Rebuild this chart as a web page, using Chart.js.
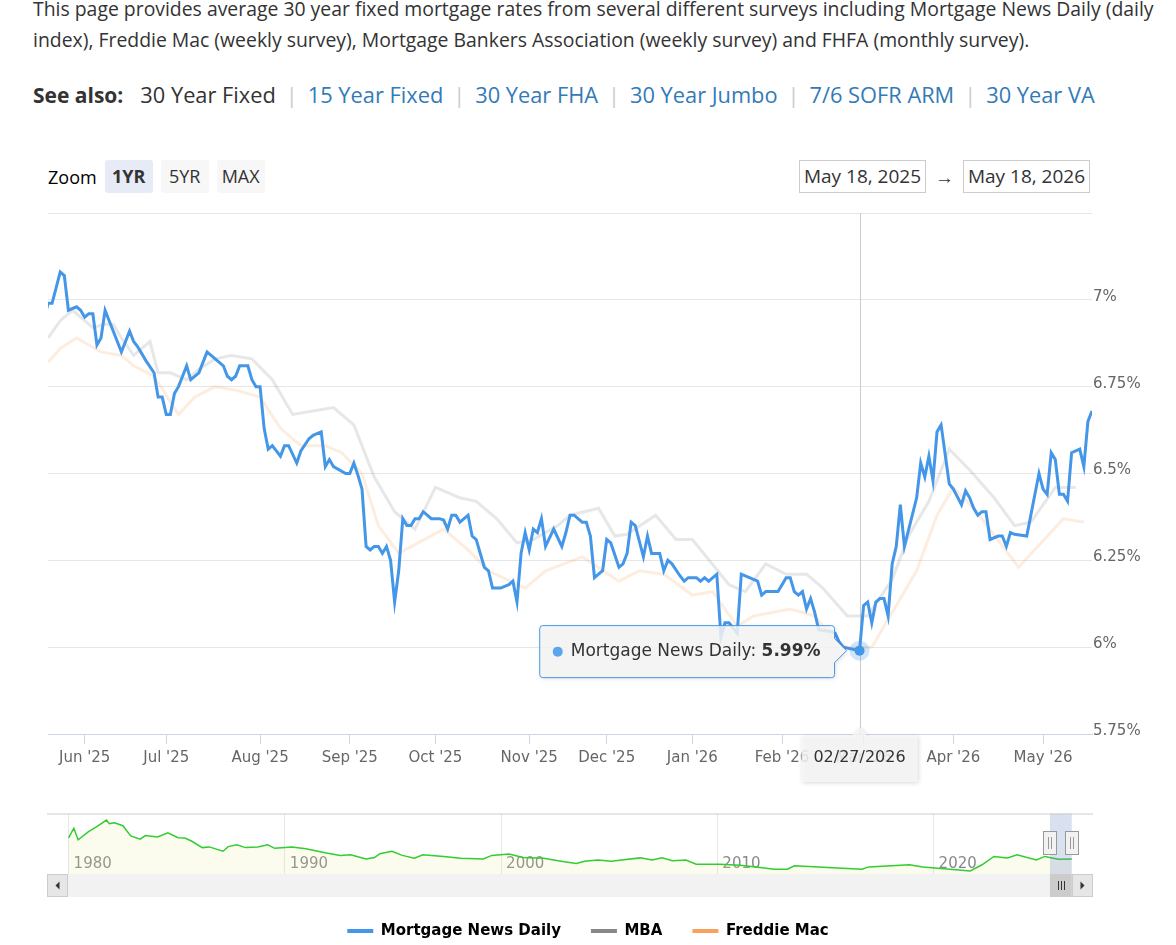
<!DOCTYPE html>
<html>
<head>
<meta charset="utf-8">
<script src="https://cdn.jsdelivr.net/npm/chart.js@4/dist/chart.umd.min.js"></script>
<style>
  body { margin:0; width:1176px; height:945px; overflow:hidden; background:#fff; position:relative;
         font-family:'Open Sans', sans-serif; color:#333; }
  .intro { position:absolute; left:33px; top:-7px; font-size:19.4px; line-height:31px; white-space:nowrap; }
  .seealso { position:absolute; left:33px; top:80px; font-size:21.8px; line-height:30px; white-space:nowrap; }
  .seealso b { font-size:21px; margin-right:17px; }
  .seealso a { color:#337ab7; text-decoration:none; }
  .seealso .sep { color:#ccc; margin:0 10px; }
  .zoom { position:absolute; left:48px; top:160px; height:33px; display:flex; align-items:center; font-size:18px; color:#000; }
  .zoom .btn { height:33px; line-height:33px; width:48px; text-align:center; margin-left:8px; background:#f7f7f7; border-radius:3px; color:#333; }
  .zoom .btn.on { background:#e6ebf5; font-weight:bold; }
  .range { position:absolute; top:160px; height:33px; display:flex; align-items:center; font-size:19px; }
  .range .box { box-sizing:border-box; height:33px; line-height:31px; width:127px; text-align:center; border:1px solid #ccc; }
  .range .arrow { width:37px; text-align:center; }
  canvas { position:absolute; left:0; }
</style>
</head>
<body>
<div class="intro">This page provides average 30 year fixed mortgage rates from several different surveys including Mortgage News Daily (daily<br>index), Freddie Mac (weekly survey), Mortgage Bankers Association (weekly survey) and FHFA (monthly survey).</div>
<div class="seealso"><b>See also:</b>30 Year Fixed<span class="sep">|</span><a>15 Year Fixed</a><span class="sep">|</span><a>30 Year FHA</a><span class="sep">|</span><a>30 Year Jumbo</a><span class="sep">|</span><a>7/6 SOFR ARM</a><span class="sep">|</span><a>30 Year VA</a></div>
<div class="zoom">Zoom<span class="btn on">1YR</span><span class="btn">5YR</span><span class="btn">MAX</span></div>
<div class="range" style="left:799px"><span class="box">May 18, 2025</span><span class="arrow">→</span><span class="box">May 18, 2026</span></div>
<canvas id="main" width="1176" height="600" style="top:200px;width:1176px;height:600px"></canvas>
<canvas id="nav" width="1176" height="150" style="top:800px;width:1176px;height:150px"></canvas>
<script>
// x = trading day since May 19, 2025
const mndDay = [-1,0,1,3,4,5,7,8,9,10,11,12,13,14,15,18,20,21,22,24,26,27,28,29,30,31,32,34,35,37,38,39,41,43,44,45,46,47,49,50,51,52,53,54,55,56,57,58,59,61,62,64,65,67,68,69,70,73,74,75,76,77,78,79,80,81,82,83,84,85,86,87,88,89,90,91,92,93,94,96,97,98,99,100,101,103,104,105,107,108,109,111,113,114,115,116,117,118,119,120,121,122,124,126,127,128,129,131,132,133,134,135,136,137,138,140,141,142,143,144,146,147,148,150,151,152,153,155,156,157,159,160,161,162,164,165,166,167,169,170,172,174,175,176,179,180,181,182,183,184,185,186,187,188,189,192,193,194,195,199,200,201,202,203,204,205,206,207,208,209,210,213,214,215,216,217,218,219,221,222,224,225,226,227,228,229,230,231,233,234,235,236,237,240,243,244,245,246,247,248,249,250,251,253,254,255,256];
const mndRate = [6.94,6.99,6.99,7.08,7.07,6.97,6.98,6.97,6.95,6.96,6.96,6.87,6.89,6.97,6.94,6.85,6.91,6.88,6.865,6.825,6.79,6.72,6.72,6.67,6.67,6.73,6.75,6.81,6.77,6.79,6.82,6.85,6.83,6.81,6.78,6.77,6.78,6.81,6.81,6.77,6.75,6.75,6.63,6.57,6.58,6.565,6.55,6.58,6.58,6.53,6.565,6.60,6.61,6.62,6.52,6.54,6.52,6.50,6.50,6.53,6.495,6.455,6.29,6.28,6.29,6.29,6.27,6.29,6.25,6.13,6.22,6.37,6.35,6.35,6.37,6.37,6.39,6.38,6.37,6.37,6.366,6.34,6.38,6.38,6.36,6.38,6.32,6.31,6.23,6.22,6.17,6.17,6.18,6.19,6.13,6.27,6.33,6.28,6.34,6.33,6.37,6.29,6.34,6.29,6.33,6.38,6.38,6.36,6.36,6.32,6.20,6.21,6.22,6.31,6.30,6.23,6.24,6.27,6.36,6.35,6.26,6.32,6.27,6.27,6.22,6.25,6.24,6.205,6.19,6.20,6.20,6.19,6.20,6.19,6.21,6.03,6.07,6.07,6.04,6.21,6.20,6.19,6.15,6.16,6.16,6.18,6.20,6.20,6.16,6.15,6.16,6.11,6.14,6.10,6.05,6.045,6.04,6.015,6.00,5.99,6.12,6.13,6.07,6.13,6.14,6.14,6.09,6.24,6.29,6.41,6.29,6.43,6.53,6.49,6.55,6.48,6.62,6.64,6.47,6.455,6.41,6.45,6.43,6.40,6.38,6.39,6.39,6.31,6.32,6.32,6.29,6.33,6.325,6.32,6.50,6.455,6.44,6.56,6.54,6.44,6.44,6.42,6.56,6.57,6.52,6.65,6.68];
const mbaDay = [0,3,6,11,14,16,18,21,25,27,30,34,37,41,45,50,55,60,70,75,80,85,90,95,101,105,110,115,119,125,128,135,139,142,149,154,158,167,171,176,181,186,190,196,201,207,211,216,221,226,232,237,241,247,252];
const mbaRate = [6.89,6.94,6.97,6.92,6.93,6.93,6.89,6.84,6.88,6.79,6.79,6.77,6.80,6.83,6.84,6.83,6.77,6.67,6.69,6.64,6.49,6.39,6.34,6.46,6.43,6.42,6.37,6.30,6.31,6.35,6.38,6.40,6.32,6.325,6.38,6.31,6.31,6.18,6.16,6.24,6.21,6.21,6.17,6.09,6.09,6.195,6.32,6.42,6.57,6.51,6.43,6.35,6.36,6.46,6.46];
const fmDay = [0,3,7,13,18,21,26,32,36,41,46,52,57,62,68,72,77,81,86,97,103,108,117,122,131,140,145,151,158,163,169,173,182,188,192,196,202,213,218,222,227,238,249,254];
const fmRate = [6.82,6.86,6.89,6.85,6.84,6.81,6.78,6.67,6.72,6.75,6.74,6.72,6.63,6.58,6.58,6.56,6.50,6.35,6.27,6.34,6.28,6.22,6.17,6.22,6.26,6.19,6.22,6.21,6.15,6.16,6.06,6.09,6.11,6.09,6.03,6.00,6.00,6.22,6.38,6.46,6.40,6.23,6.37,6.36];

const monthTickDay = [9,29,52,74,95,118,137,158,180,200,222,244];
const monthLabels = ["Jun '25","Jul '25","Aug '25","Sep '25","Oct '25","Nov '25","Dec '25","Jan '26","Feb '26","Mar '26","Apr '26","May '26"];
const rateTicks = [5.75,6,6.25,6.5,6.75,7,7.25];

const seriesNames = ['Mortgage News Daily','MBA','Freddie Mac'];
const seriesColors = ['#4496e8','#888888','#f5a35f'];
const hoverDay = 199;
const hoverDate = '02/27/2026';

// navigator: long history
const navYear = [1980.0,1980.24,1980.44,1980.92,1981.32,1981.75,1981.88,1982.12,1982.51,1982.87,1983.31,1983.55,1984.11,1984.59,1985.06,1985.38,1985.7,1986.18,1986.5,1987.14,1987.38,1987.78,1988.18,1988.74,1989.21,1989.53,1990.33,1990.97,1991.92,1992.56,1993.04,1993.75,1994.15,1994.39,1994.95,1995.43,1995.99,1996.38,1997.34,1998.14,1999.18,1999.57,2000.37,2001.01,2001.97,2002.92,2003.48,2003.85,2004.48,2005.11,2005.57,2006.44,2006.98,2007.45,2007.92,2008.55,2009.02,2010.11,2011.05,2011.99,2012.62,2013.24,2013.56,2015.12,2016.69,2017.0,2018.88,2019.5,2020.75,2021.69,2022.24,2022.79,2023.42,2023.86,2024.75,2025.14,2025.77,2026.39];
const navRate = [12.97,15.93,12.34,14.85,16.51,18.48,17.37,17.6,16.73,13.55,12.53,13.64,13.2,14.53,12.97,12.88,11.89,9.92,10.14,8.8,10.23,10.78,9.92,10.14,10.78,9.69,10.14,9.56,8.26,7.5,7.72,6.38,6.83,8.04,8.8,7.5,6.6,7.72,7.18,6.6,6.38,7.5,7.94,6.83,6.6,5.52,4.98,5.68,6.09,5.68,6.09,6.73,6.09,6.73,5.87,6.09,4.79,4.79,4.47,3.74,3.2,3.2,4.28,3.74,3.2,3.93,4.6,3.93,3.2,2.65,4.6,7.18,6.73,7.72,6.09,7.18,6.3,6.4];
const navYearTicks = [1980,1990,2000,2010,2020];
const navRange = [2025.38, 2026.39];
const navFloor = 0.61;

const pts = (xs, ys) => xs.map((x, i) => ({x: x, y: ys[i]}));
const chartFont = 'DejaVu Sans';

const hoverPlugin = {
  id: 'hover',
  beforeDatasetsDraw(chart) {
    const {ctx, chartArea, scales} = chart;
    const px = Math.round(scales.x.getPixelForValue(hoverDay)) + 0.5;
    ctx.save();
    ctx.strokeStyle = '#cccccc';
    ctx.lineWidth = 1;
    ctx.beginPath();
    ctx.moveTo(px, chartArea.top);
    ctx.lineTo(px, chartArea.bottom);
    ctx.stroke();
    ctx.restore();
  },
  afterDatasetsDraw(chart) {
    const {ctx, scales} = chart;
    const v = mndRate[mndDay.indexOf(hoverDay)];
    const px = scales.x.getPixelForValue(hoverDay), py = scales.y.getPixelForValue(v);
    ctx.save();
    ctx.fillStyle = 'rgba(68,150,232,0.25)';
    ctx.beginPath(); ctx.arc(px, py, 10, 0, Math.PI * 2); ctx.fill();
    ctx.fillStyle = seriesColors[0];
    ctx.beginPath(); ctx.arc(px, py, 5, 0, Math.PI * 2); ctx.fill();
    ctx.restore();
  },
  afterDraw(chart) {
    const {ctx, chartArea, scales} = chart;
    const v = mndRate[mndDay.indexOf(hoverDay)];
    const px = scales.x.getPixelForValue(hoverDay), py = scales.y.getPixelForValue(v);
    const name = seriesNames[0] + ': ';
    const valTxt = v.toFixed(2) + '%';
    ctx.save();
    ctx.font = '17px "' + chartFont + '"';
    const w1 = ctx.measureText(name).width;
    ctx.font = 'bold 17px "' + chartFont + '"';
    const w2 = ctx.measureText(valTxt).width;
    const boxW = 31 + w1 + w2 + 14, boxH = 52, r = 3;
    const right = px - 25, left = right - boxW, top = py - 25, bottom = top + boxH;

    // tooltip callout
    ctx.beginPath();
    ctx.moveTo(left + r, top);
    ctx.lineTo(right - r, top);
    ctx.quadraticCurveTo(right, top, right, top + r);
    ctx.lineTo(right, py - 12);
    ctx.lineTo(px - 13, py);
    ctx.lineTo(right, py + 12);
    ctx.lineTo(right, bottom - r);
    ctx.quadraticCurveTo(right, bottom, right - r, bottom);
    ctx.lineTo(left + r, bottom);
    ctx.quadraticCurveTo(left, bottom, left, bottom - r);
    ctx.lineTo(left, top + r);
    ctx.quadraticCurveTo(left, top, left + r, top);
    ctx.closePath();
    ctx.shadowColor = 'rgba(0,0,0,0.15)';
    ctx.shadowBlur = 4; ctx.shadowOffsetX = 1; ctx.shadowOffsetY = 1;
    ctx.fillStyle = 'rgba(247,247,247,0.85)';
    ctx.fill();
    ctx.shadowColor = 'transparent';
    ctx.strokeStyle = seriesColors[0];
    ctx.lineWidth = 1;
    ctx.stroke();

    const cy = top + boxH / 2;
    ctx.fillStyle = '#5aa5ec';
    ctx.beginPath(); ctx.arc(left + 18, cy, 5, 0, Math.PI * 2); ctx.fill();
    ctx.textBaseline = 'middle';
    ctx.textAlign = 'left';
    ctx.fillStyle = '#333333';
    ctx.font = '17px "' + chartFont + '"';
    ctx.fillText(name, left + 31, cy);
    ctx.font = 'bold 17px "' + chartFont + '"';
    ctx.fillText(valTxt, left + 31 + w1, cy);

    // date label under the axis
    ctx.font = '16px "' + chartFont + '"';
    const dw = ctx.measureText(hoverDate).width + 24;
    const dTop = chartArea.bottom + 2, dH = 46;
    ctx.beginPath();
    ctx.moveTo(px - dw / 2, dTop);
    ctx.lineTo(px - 8, dTop);
    ctx.lineTo(px, dTop - 9);
    ctx.lineTo(px + 8, dTop);
    ctx.lineTo(px + dw / 2, dTop);
    ctx.lineTo(px + dw / 2, dTop + dH);
    ctx.lineTo(px - dw / 2, dTop + dH);
    ctx.closePath();
    ctx.shadowColor = 'rgba(0,0,0,0.18)';
    ctx.shadowBlur = 4; ctx.shadowOffsetX = 1; ctx.shadowOffsetY = 1;
    ctx.fillStyle = 'rgba(247,247,247,0.85)';
    ctx.fill();
    ctx.shadowColor = 'transparent';
    ctx.fillStyle = '#333333';
    ctx.textAlign = 'center';
    ctx.fillText(hoverDate, px, dTop + 22);
    ctx.restore();
  }
};

new Chart(document.getElementById('main'), {
  type: 'line',
  data: {
    datasets: [
      {label: seriesNames[0], data: pts(mndDay, mndRate), borderColor: seriesColors[0], borderWidth: 3, pointRadius: 0, tension: 0, order: 0},
      {label: seriesNames[1], data: pts(mbaDay, mbaRate), borderColor: 'rgba(136,136,136,0.2)', borderWidth: 3, pointRadius: 0, tension: 0, order: 1},
      {label: seriesNames[2], data: pts(fmDay, fmRate), borderColor: 'rgba(245,163,95,0.2)', borderWidth: 3, pointRadius: 0, tension: 0, order: 2}
    ]
  },
  options: {
    responsive: false,
    animation: false,
    events: [],
    layout: {padding: {left: 48, top: 13, right: 0, bottom: 26}},
    plugins: {legend: {display: false}, tooltip: {enabled: false}},
    scales: {
      x: {
        type: 'linear', min: 0, max: 256,
        afterBuildTicks: s => { s.ticks = monthTickDay.map(v => ({value: v})); },
        afterFit: s => { s.height = 40; },
        grid: {drawOnChartArea: false, drawTicks: true, tickLength: 10, color: '#ccd6eb'},
        border: {color: '#ccd6eb'},
        ticks: {autoSkip: false, maxRotation: 0, padding: 5, color: '#666666',
                font: {family: chartFont, size: 15},
                callback: (v, i) => monthLabels[i]}
      },
      y: {
        position: 'right', min: 5.75, max: 7.25,
        afterBuildTicks: s => { s.ticks = rateTicks.map(v => ({value: v})); },
        afterFit: s => { s.width = 84; },
        grid: {color: '#e6e6e6', drawTicks: false},
        border: {display: false},
        ticks: {padding: 1, labelOffset: -3, color: '#666666',
                font: {family: chartFont, size: 15},
                callback: v => v === 7.25 ? '' : v + '%'}
      }
    }
  },
  plugins: [hoverPlugin]
});

const navPlugin = {
  id: 'navigator',
  afterDraw(chart) {
    const {ctx, chartArea, scales} = chart;
    const x0 = scales.x.getPixelForValue(navRange[0]);
    const x1 = scales.x.getPixelForValue(navRange[1]);
    const top = chartArea.top, navBottom = 74;
    const sbTop = 74, sbH = 23, sbLeft = 47, sbRight = 1093;
    ctx.save();
    // selected range mask
    ctx.fillStyle = 'rgba(102,133,194,0.25)';
    ctx.fillRect(x0, top, x1 - x0, navBottom - top);
    // outline
    ctx.strokeStyle = '#cccccc';
    ctx.lineWidth = 1;
    ctx.beginPath(); ctx.moveTo(sbLeft, top + 0.5); ctx.lineTo(sbRight, top + 0.5); ctx.stroke();
    // scrollbar track
    ctx.fillStyle = '#f2f2f2';
    ctx.fillRect(sbLeft, sbTop, sbRight - sbLeft, sbH);
    // thumb
    ctx.fillStyle = '#cccccc';
    ctx.fillRect(x0, sbTop, x1 - x0, sbH);
    ctx.strokeStyle = '#333333';
    const mid = (x0 + x1) / 2;
    [-3, 0, 3].forEach(d => {
      ctx.beginPath(); ctx.moveTo(Math.round(mid + d) + 0.5, sbTop + 7); ctx.lineTo(Math.round(mid + d) + 0.5, sbTop + 16); ctx.stroke();
    });
    // buttons
    [[sbLeft, -1], [sbRight - 21, 1]].forEach(([bx, dir]) => {
      ctx.fillStyle = '#e6e6e6';
      ctx.fillRect(bx, sbTop, 21, sbH);
      ctx.strokeStyle = '#cccccc';
      ctx.strokeRect(bx + 0.5, sbTop + 0.5, 20, sbH - 1);
      const cx = bx + 10.5, cy = sbTop + sbH / 2;
      ctx.fillStyle = '#333333';
      ctx.beginPath();
      ctx.moveTo(cx - 2 * dir, cy - 4);
      ctx.lineTo(cx + 2 * dir, cy);
      ctx.lineTo(cx - 2 * dir, cy + 4);
      ctx.closePath();
      ctx.fill();
    });
    // handles
    [x0, x1].forEach(hx => {
      const hxr = Math.round(hx);
      ctx.fillStyle = '#f2f2f2';
      ctx.strokeStyle = '#999999';
      ctx.fillRect(hxr - 6.5, 31, 13, 24);
      ctx.strokeRect(hxr - 6.5, 31.5, 13, 23);
      ctx.beginPath();
      ctx.moveTo(hxr - 1.5, 37); ctx.lineTo(hxr - 1.5, 49);
      ctx.moveTo(hxr + 1.5, 37); ctx.lineTo(hxr + 1.5, 49);
      ctx.stroke();
    });
    ctx.restore();
  }
};

new Chart(document.getElementById('nav'), {
  type: 'line',
  data: {
    datasets: [{
      label: 'history', data: pts(navYear, navRate),
      borderColor: '#33cc33', borderWidth: 1.5, pointRadius: 0, tension: 0,
      fill: {value: navFloor}, backgroundColor: 'rgba(230,230,150,0.16)'
    }]
  },
  options: {
    responsive: false,
    animation: false,
    events: [],
    layout: {padding: {left: 0, right: 0, top: 13.5, bottom: 1.5}},
    plugins: {
      tooltip: {enabled: false},
      legend: {
        position: 'bottom',
        labels: {
          boxWidth: 26, boxHeight: 4, padding: 30, color: '#333333',
          font: {family: chartFont, size: 15, weight: 'bold'},
          generateLabels: () => seriesNames.map((n, i) => ({
            text: n, fillStyle: seriesColors[i], strokeStyle: seriesColors[i],
            lineWidth: 0, hidden: false, datasetIndex: i
          }))
        }
      }
    },
    scales: {
      x: {
        type: 'linear', min: 1979.0, max: 2026.4,
        afterBuildTicks: s => { s.ticks = navYearTicks.map(v => ({value: v})); },
        afterFit: s => { s.height = 0; },
        grid: {color: '#e6e6e6', drawTicks: false},
        border: {display: false},
        ticks: {autoSkip: false, maxRotation: 0, mirror: true, align: 'start', labelOffset: 5, padding: 20,
                color: '#888888', font: {family: chartFont, size: 15},
                callback: v => String(v)}
      },
      y: {
        position: 'left', min: -4.33, max: 20.51,
        afterFit: s => { s.width = 47; },
        ticks: {display: false}, grid: {display: false}, border: {display: false}
      },
      yR: {
        position: 'right', min: 0, max: 1,
        afterFit: s => { s.width = 104; },
        ticks: {display: false}, grid: {display: false}, border: {display: false}
      }
    }
  },
  plugins: [navPlugin]
});
</script>
</body>
</html>
